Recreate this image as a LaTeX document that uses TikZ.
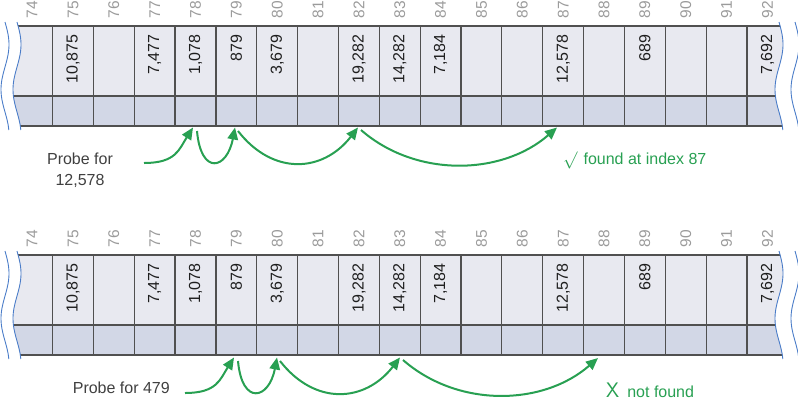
\documentclass[tikz,border=0pt]{standalone}
\usepackage{fontspec}
\setmainfont{Liberation Sans}
\usetikzlibrary{arrows.meta}
\definecolor{arrgreen}{RGB}{40,160,82}
\definecolor{cellfill}{RGB}{232,233,240}
\definecolor{tagfill}{RGB}{210,215,230}
\definecolor{gridc}{RGB}{80,80,80}
\definecolor{wavec}{RGB}{74,124,200}
\definecolor{idxc}{RGB}{155,155,155}
\definecolor{valc}{RGB}{30,30,30}
\tikzset{
  gridline/.style={draw=gridc, line width=1.2pt},
  waveline/.style={draw=wavec, line width=0.9pt},
  idxlabel/.style={rotate=90, anchor=west, inner sep=0pt, text=idxc, font=\fontsize{15.5}{15.5}\selectfont},
  vallabel/.style={rotate=90, anchor=east, inner sep=0pt, text=valc, font=\fontsize{16}{16}\selectfont},
  garrow/.style={draw=arrgreen, line width=2pt, -{Triangle[length=12pt,width=10.5pt]}},
  gtext/.style={text=arrgreen, inner sep=0pt, font=\fontsize{16}{16}\selectfont},
  probetext/.style={text=valc!85!white, inner sep=0pt, align=center, font=\fontsize{16}{21}\selectfont}
}
\begin{document}
\begin{tikzpicture}[x=1pt,y=-1pt]
\useasboundingbox (0,0) rectangle (798,400);
\foreach \p/\oy in {1/0,2/229}{
  \begin{scope}[shift={(0,\oy)}]
    \begin{scope}
      \clip plot[domain=22:130,samples=50] ({17+4*sin((\x-22)*4)},\x)
        -- plot[domain=130:22,samples=50] ({779+4*sin((\x-22)*4)},\x) -- cycle;
      \fill[cellfill] (0,26) rectangle (798,96);
      \fill[tagfill] (0,96) rectangle (798,126);
      \foreach \k in {75,...,92}{
        \draw[gridline] ({52.5+(\k-75)*40.85},26) -- ({52.5+(\k-75)*40.85},126);
      }
      \draw[gridline] (0,26) -- (798,26);
      \draw[gridline] (0,96) -- (798,96);
      \draw[gridline] (0,126) -- (798,126);
    \end{scope}
    \foreach \w in {5,17,779,795}{
      \draw[waveline] plot[domain=22:130,samples=50] ({\w+4*sin((\x-22)*4)},\x);
    }
    \foreach \k in {74,...,92}{
      \node[idxlabel] (i\p-\k) at ({73+(\k-75)*40.85},18.5) {\k};
    }
    \foreach \k/\v in {75/{10,875},77/{7,477},78/{1,078},79/{879},80/{3,679},82/{19,282},83/{14,282},84/{7,184},87/{12,578},89/{689},92/{7,692}}{
      \node[vallabel] (v\p-\k) at ({73+(\k-75)*40.85},34.5) {\v};
    }
  \end{scope}
}
% texts
\node[probetext] (probe1) at (80,170) {Probe for\\12,578};
\node[gtext, anchor=west] (found) at (563,160) {$\surd$\hspace{6pt}found at index 87};
\node[probetext, anchor=east] (probe2) at (170,388) {Probe for 479};
\node[gtext, anchor=west] (notfound) at (606,390) {{\sffamily\fontsize{21}{21}\selectfont X}\hspace{8pt}not found};
% arrow end points
\coordinate (s1a) at (144,163);
\coordinate (t1a) at (193,127.5);
\coordinate (s1b) at (197,131);
\coordinate (t1b) at (235,127.5);
\coordinate (s1c) at (238,131);
\coordinate (t1c) at (358,127.5);
\coordinate (s1d) at (361,130);
\coordinate (t1d) at (557,127.5);
\coordinate (s2a) at (185,393);
\coordinate (t2a) at (234,357.5);
\coordinate (s2b) at (238,361);
\coordinate (t2b) at (277,357.5);
\coordinate (s2c) at (280,361);
\coordinate (t2c) at (400,357.5);
\coordinate (s2d) at (403,360);
\coordinate (t2d) at (598,358);
\foreach \p in {1,2}{
  \draw[garrow] (s\p a) .. controls +(32,0) and +(-14,22) .. (t\p a);
  \draw[garrow] (s\p b) .. controls +(4,45) and +(-8,42) .. (t\p b);
  \draw[garrow] (s\p c) .. controls +(35,45) and +(-35,45) .. (t\p c);
  \draw[garrow] (s\p d) .. controls +(55,48) and +(-55,48) .. (t\p d);
}
\end{tikzpicture}
\end{document}
